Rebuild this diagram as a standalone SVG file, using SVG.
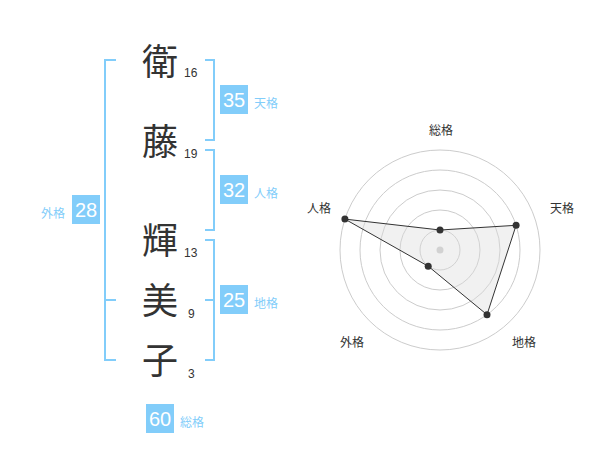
<svg xmlns="http://www.w3.org/2000/svg" width="600" height="470" viewBox="0 0 600 470">
<style>
.kanji{font-family:"Noto Sans CJK JP","Noto Sans CJK SC",sans-serif;font-size:36px;fill:#333;text-anchor:middle}
.num{font-family:"Liberation Sans",Arial,sans-serif;font-size:12px;fill:#333}
.br{fill:none;stroke:#82cdfa;stroke-width:2}
.box{fill:#82cdfa}
.bt{font-family:"Liberation Sans",Arial,sans-serif;font-size:20px;fill:#fff;text-anchor:middle}
.lb{font-family:"Noto Sans CJK JP","Noto Sans CJK SC",sans-serif;font-size:12px;fill:#82cdfa}
.ring{fill:none;stroke:#ccc;stroke-width:1}
.rl{font-family:"Noto Sans CJK JP","Noto Sans CJK SC",sans-serif;font-size:12px;fill:#333;text-anchor:middle}
.dot{fill:#333}
</style>
<rect width="600" height="470" fill="#fff"/>
<g id="chars">
<g id="c1"><text class="kanji" x="160" y="75">衛</text><text class="num" x="184" y="77">16</text></g>
<g id="c2"><text class="kanji" x="160" y="155">藤</text><text class="num" x="184" y="158">19</text></g>
<g id="c3"><text class="kanji" x="160" y="254">輝</text><text class="num" x="184" y="257">13</text></g>
<g id="c4"><text class="kanji" x="160" y="314">美</text><text class="num" x="188" y="318">9</text></g>
<g id="c5"><text class="kanji" x="160" y="374">子</text><text class="num" x="188" y="378">3</text></g>
</g>
<g id="connectors">
<path class="br" d="M116,60 H105 V360 H116 M105,300 H116"/>
<path class="br" d="M205,60 H214 V140 H205"/>
<path class="br" d="M205,150 H214 V230 H205"/>
<path class="br" d="M205,240 H214 V360 H205 M214,300 H205"/>
</g>
<g id="tenkaku"><rect class="box" x="220" y="85" width="28" height="29"/><text class="bt" x="234" y="107">35</text><text class="lb" x="254" y="108">天格</text></g>
<g id="jinkaku"><rect class="box" x="220" y="175" width="28" height="29"/><text class="bt" x="234" y="197">32</text><text class="lb" x="254" y="198">人格</text></g>
<g id="chikaku"><rect class="box" x="220" y="285" width="28" height="29"/><text class="bt" x="234" y="307">25</text><text class="lb" x="254" y="308">地格</text></g>
<g id="gaikaku"><rect class="box" x="72" y="195" width="28" height="29"/><text class="bt" x="86" y="217">28</text><text class="lb" x="41" y="218">外格</text></g>
<g id="soukaku"><rect class="box" x="146" y="404" width="28" height="29"/><text class="bt" x="160" y="426">60</text><text class="lb" x="180" y="427">総格</text></g>
<g id="radar">
<circle class="ring" cx="440" cy="250" r="20"/>
<circle class="ring" cx="440" cy="250" r="40"/>
<circle class="ring" cx="440" cy="250" r="60"/>
<circle class="ring" cx="440" cy="250" r="80"/>
<circle class="ring" cx="440" cy="250" r="100"/>
<circle cx="440" cy="250" r="3.5" fill="#ccc"/>
<polygon points="440,230 516.1,225.3 487,314.7 428.2,266.2 344.9,219.1" fill="#ddd" fill-opacity="0.4" stroke="#333" stroke-width="1"/>
<circle class="dot" cx="440" cy="230" r="3.5"/>
<circle class="dot" cx="516.1" cy="225.3" r="3.5"/>
<circle class="dot" cx="487" cy="314.7" r="3.5"/>
<circle class="dot" cx="428.2" cy="266.2" r="3.5"/>
<circle class="dot" cx="344.9" cy="219.1" r="3.5"/>
<text class="rl" x="441" y="135">総格</text>
<text class="rl" x="562" y="213">天格</text>
<text class="rl" x="319" y="213">人格</text>
<text class="rl" x="352" y="347">外格</text>
<text class="rl" x="524" y="347">地格</text>
</g>
</svg>
